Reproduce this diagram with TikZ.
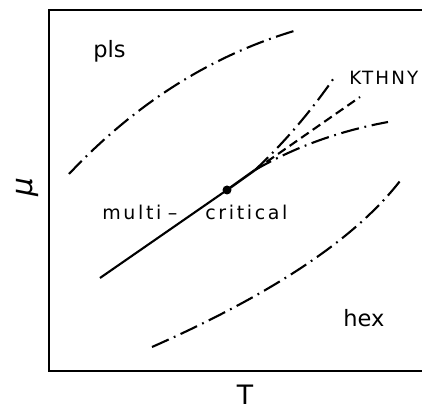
\documentclass[tikz,border=0pt]{standalone}
\usepackage{fontspec}
\setsansfont{DejaVu Sans}
\newfontfamily\spacedfont[LetterSpace=14]{DejaVu Sans}
\newfontfamily\capsfont[LetterSpace=12]{DejaVu Sans}
\usetikzlibrary{positioning}

\begin{document}
\begin{tikzpicture}[x=0.025cm,y=-0.025cm,
    phase/.style={font=\sffamily\fontsize{16}{18}\selectfont,inner sep=0pt,anchor=base west},
    mclabel/.style={font=\spacedfont\fontsize{13.5}{15}\selectfont,inner sep=0pt,anchor=base west},
    dashdot/.style={line width=1.5pt,dash pattern=on 13pt off 4pt on 1.3pt off 4pt},
    dashline/.style={line width=1.5pt,dash pattern=on 6.5pt off 3.5pt}]
    \useasboundingbox (0,0) rectangle (422,411);
    % frame, open at the right
    \draw[line width=1.3pt] (422,10) -- (49,10) -- (49,371) -- (422,371);
    % axis labels
    \node[font=\sffamily\fontsize{19}{21}\selectfont,inner sep=0pt,anchor=base] (Tlab) at (245,405) {T};
    \node[font=\sffamily\itshape\fontsize{21}{24}\selectfont,inner sep=0pt,rotate=90] (mulab) at (27,187) {μ};
    % phase labels
    \node[phase] (pls) at (93,58) {pls};
    \node[phase] (hex) at (343,327) {hex};
    \node[mclabel] (multi) at (102,220) {multi\,\,–};
    \node[mclabel] (crit) at (205,220) {critical};
    \node[font=\capsfont\fontsize{13}{15}\selectfont,inner sep=0pt,anchor=base west] (kthny) at (349,85) {KTHNY};
    % phase boundaries
    \draw[dashdot] (69,174) .. controls (136,103) and (211,56) .. (294,31);
    \draw[dashdot] (152,347) .. controls (272,294) and (355,239) .. (400,181);
    % multicritical point and branches
    \coordinate (start) at (100,278);
    \coordinate (mc) at (227,190);
    \coordinate (fork) at (255,170);
    \coordinate (upend) at (336,75);
    \coordinate (midend) at (360,97);
    \coordinate (lowend) at (388,122);
    \draw[line width=1.5pt] (start) -- (mc);
    \draw[line width=1.8pt] (mc) -- (fork);
    \fill (mc) circle (4.5);
    \draw[dashdot] (fork) .. controls (285,142) and (312,110) .. (upend);
    \draw[dashline] (fork) -- (midend);
    \draw[dashdot] (fork) .. controls (295,147) and (339,131) .. (lowend);
\end{tikzpicture}
\end{document}
